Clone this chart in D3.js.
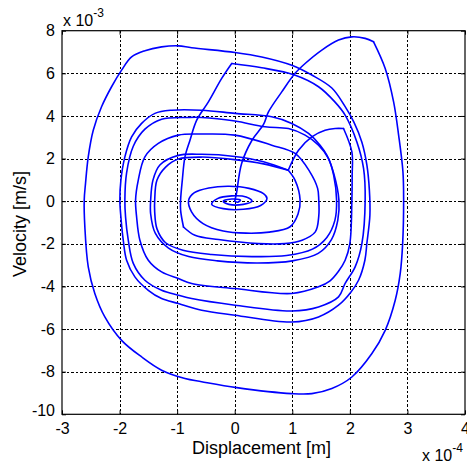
<!DOCTYPE html>
<html>
<head>
<meta charset="utf-8">
<script src="https://cdn.jsdelivr.net/npm/d3@7"></script>
<style>
  html, body { margin: 0; padding: 0; background: #fff; }
  svg { display: block; font-family: "Liberation Sans", Arial, sans-serif; }
</style>
</head>
<body>
<svg id="chart" width="467" height="463"></svg>
<script>
// Axis ticks (displacement in 1e-4 m, velocity in 1e-3 m/s)
const xTicks = [-3, -2, -1, 0, 1, 2, 3, 4];
const yTicks = [-10, -8, -6, -4, -2, 0, 2, 4, 6, 8];
const xTickLabels = ["-3", "-2", "-1", "0", "1", "2", "3", "4"];
const yTickLabels = ["-10", "-8", "-6", "-4", "-2", "0", "2", "4", "6", "8"];

// Phase trajectory, [displacement, velocity], split where the velocity jumps
const kickUp = [
  [0.0,0.0],[0.03,0.36],[0.12,1.77],[0.30,2.86],[0.5,3.6],[0.586,4.19],[0.817,5.13],[1.049,6.0],
  [1.223,6.46],[1.513,7.09],[1.803,7.56],[2.035,7.71],[2.266,7.64],[2.412,7.48]
];
const outerLoops = [
  [2.412,7.48],[2.614,6.23],[2.76,4.66],[2.847,3.10],[2.922,1.38],[2.934,0.05],[2.917,-1.99],
  [2.875,-3.39],[2.788,-4.65],[2.614,-6.06],[2.383,-7.15],[2.035,-8.25],[1.687,-8.79],[1.339,-9.03],
  [0.991,-9.03],[0.035,-8.75],[-0.574,-8.47],[-0.864,-8.32],[-1.27,-7.93],[-1.617,-7.31],[-1.965,-6.53],
  [-2.256,-5.43],[-2.43,-4.33],[-2.544,-3.08],[-2.603,-1.21],[-2.614,0.05],[-2.591,0.85],[-2.544,2.08],
  [-2.457,3.33],[-2.313,4.43],[-2.139,5.37],[-1.965,6.15],[-1.791,6.77],[-1.56,7.06],[-1.27,7.24],
  [-0.979,7.29],[-0.748,7.2],[0.005,6.98],[0.47,6.77],[0.991,6.38],[1.339,5.92],[1.687,5.31],
  [1.913,4.46],[2.07,3.71],[2.209,2.77],[2.296,1.69],[2.339,0.52],[2.348,-0.66],[2.296,-1.97],
  [2.261,-2.77],[2.151,-3.71],[2.017,-4.27],[1.803,-4.88],[1.456,-5.43],[0.991,-5.67],[0.005,-5.35],
  [-0.574,-5.12],[-0.979,-4.8],[-1.27,-4.57],[-1.501,-4.18],[-1.734,-3.55],[-1.878,-2.77],[-1.936,-1.83],
  [-1.977,-0.74],[-1.995,0.05],[-1.977,0.99],[-1.908,2.08],[-1.791,3.02],[-1.617,3.65],[-1.386,4.12],
  [-1.096,4.27],[-0.574,4.27],[0.005,4.12],[0.643,3.96],[0.991,3.65],[1.282,3.18],[1.483,2.63],
  [1.6,2.16],[1.72,1.3],[1.81,0.05],[1.79,-0.9],[1.68,-1.8],[1.45,-2.45],[1.0,-2.8],[0.4,-2.9],
  [-0.3,-2.8],[-0.8,-2.6],[-1.15,-2.2],[-1.38,-1.5],[-1.46,-0.6],[-1.46,0.05],[-1.42,0.99],[-1.3,1.7],
  [-0.979,2.15],[-0.574,2.2],[0,2.1],[0.5,1.85],[0.93,1.45]
];
const secondKick = [
  [0.93,1.45],[1.108,2.39],[1.339,3.02],[1.57,3.33],[1.744,3.41],[1.89,3.41]
];
const secondLoops = [
  [1.89,3.41],[2.035,2.31],[2.04,1.22],[2.035,0.05],[2.0,-1.99],[1.918,-2.77],[1.80,-3.3],
  [1.65,-3.75],[1.456,-4.02],[0.991,-4.33],[0.005,-4.1],[-0.748,-3.86],[-0.979,-3.63],[-1.27,-3.32],
  [-1.501,-2.77],[-1.647,-1.83],[-1.704,-0.74],[-1.722,0.05],[-1.675,0.99],[-1.56,2.08],[-1.327,2.71],
  [-0.979,3.1],[-0.574,3.15],[0,3.1],[0.643,2.63],[1.049,2.24],[1.3,1.4],[1.44,0.6],[1.46,0.05],
  [1.46,-0.7],[1.4,-1.44],[1.17,-1.83],[0.87,-1.99],[0.41,-1.99],[-0.28,-1.8],[-0.69,-1.6],[-0.89,-1.21]
];
const thirdKick = [
  [-0.89,-1.21],[-0.94,-0.42],[-0.94,0.05],[-0.91,0.99],[-0.864,2.08],[-0.777,2.86],[-0.66,3.8],
  [-0.457,4.66],[-0.226,5.76],[-0.052,6.46]
];
const thirdLoops = [
  [-0.052,6.46],[0.47,6.26],[1.04,5.92],[1.456,5.37],[1.739,4.66],[1.918,4.04],[2.122,2.78],
  [2.238,1.54],[2.266,0.05],[2.209,-1.99],[2.092,-3.08],[1.918,-3.86],[1.803,-4.49],[1.456,-4.96],
  [0.991,-5.15],[0.005,-4.88],[-0.748,-4.57],[-0.979,-4.41],[-1.27,-4.18],[-1.56,-3.71],[-1.762,-2.92],
  [-1.849,-1.83],[-1.896,-0.74],[-1.908,0.05],[-1.878,1.33],[-1.762,2.58],[-1.56,3.38],[-1.27,3.85],
  [-0.805,3.93],[-0.574,3.93],[0.005,3.76],[0.527,3.49],[0.933,3.41],[1.223,3.1],[1.456,2.63],[1.63,2.0],
  [1.72,1.2],[1.77,0.05],[1.74,-0.9],[1.6,-1.7],[1.35,-2.25],[0.9,-2.55],[0.3,-2.6],[-0.4,-2.5],
  [-0.9,-2.3],[-1.2,-1.95],[-1.35,-1.3],[-1.39,-0.5],[-1.39,0.05],[-1.35,0.99],[-1.2,1.6],[-0.979,1.98],
  [-0.574,2.07],[0,1.95],[0.5,1.75],[0.93,1.45]
];
const finalDecay = [
  [0.93,1.45],[1.049,0.98],[1.136,0.05],[1.10,-0.6],[0.962,-1.2],[0.6,-1.45],[0.2,-1.5],[-0.2,-1.4],
  [-0.55,-1.05],[-0.75,-0.5],[-0.8,0.05],[-0.7,0.4],[-0.45,0.62],[-0.1,0.7],[0.25,0.6],[0.5,0.35],
  [0.56,0.13],[0.45,-0.2],[0.15,-0.38],[-0.2,-0.35],[-0.4,-0.15],[-0.3,0.12],[-0.05,0.25],[0.2,0.2],
  [0.3,0.0],[0.15,-0.15],[-0.1,-0.15],[-0.2,0],[-0.05,0.1],[0.1,0.05],[0.05,-0.05],[0,0]
];
const segments = [kickUp, outerLoops, secondKick, secondLoops, thirdKick, thirdLoops, finalDecay];

const svg = d3.select("#chart");
const W = 467, H = 463;
const x = d3.scaleLinear().domain([-3, 4]).range([62, 465]);
const y = d3.scaleLinear().domain([-10, 8]).range([414.3, 30.7]);

svg.append("rect").attr("width", W).attr("height", H).attr("fill", "#fff");

// dotted grid
const grid = svg.append("g").attr("stroke", "#000").attr("stroke-width", 1)
  .attr("stroke-dasharray", "2.5,2").attr("shape-rendering", "crispEdges");
grid.selectAll("line.vx").data(xTicks.slice(1, -1)).join("line")
  .attr("x1", d => Math.round(x(d)) + 0.5).attr("x2", d => Math.round(x(d)) + 0.5)
  .attr("y1", y(8)).attr("y2", y(-10));
grid.selectAll("line.hy").data(yTicks.slice(1, -1)).join("line")
  .attr("y1", d => Math.round(y(d)) + 0.5).attr("y2", d => Math.round(y(d)) + 0.5)
  .attr("x1", x(-3)).attr("x2", x(4));

// trajectory: each piece smoothed on its own so the kicks stay sharp corners
const line = d3.line().x(d => x(d[0])).y(d => y(d[1])).curve(d3.curveCatmullRom.alpha(0.5));
svg.append("g").selectAll("path").data(segments).join("path")
  .attr("d", line).attr("fill", "none").attr("stroke", "#0000ff")
  .attr("stroke-width", 1.6).attr("stroke-linejoin", "miter").attr("stroke-linecap", "round");

// axes with inward ticks on all four sides
const fs = 16;
const axB = d3.axisBottom(x).tickValues(xTicks).tickFormat((d, i) => xTickLabels[i]).tickSizeInner(-4).tickSizeOuter(0).tickPadding(8);
const axT = d3.axisTop(x).tickValues(xTicks).tickFormat("").tickSizeInner(-4).tickSizeOuter(0);
const axL = d3.axisLeft(y).tickValues(yTicks).tickFormat((d, i) => yTickLabels[i]).tickSizeInner(-4).tickSizeOuter(0).tickPadding(7);
const axR = d3.axisRight(y).tickValues(yTicks).tickFormat("").tickSizeInner(-4).tickSizeOuter(0);

function styleAxis(g) {
  g.select(".domain").remove();
  g.selectAll("line").attr("stroke", "#000");
  g.selectAll("text").attr("fill", "#000").attr("font-size", fs).attr("font-family", "Liberation Sans, Arial, sans-serif");
}
svg.append("g").attr("transform", `translate(0,${y(-10)})`).call(axB).call(styleAxis);
svg.append("g").attr("transform", `translate(0,${y(8)})`).call(axT).call(styleAxis);
const gl = svg.append("g").attr("transform", `translate(${x(-3)},0)`).call(axL).call(styleAxis);
svg.append("g").attr("transform", `translate(${x(4)},0)`).call(axR).call(styleAxis);
// lowest y label sits a little higher so it clears the x labels
gl.selectAll(".tick").filter(d => d === -10).select("text").attr("dy", "0.05em");

// box
svg.append("rect").attr("x", x(-3)).attr("y", y(8)).attr("width", x(4) - x(-3)).attr("height", y(-10) - y(8))
  .attr("fill", "none").attr("stroke", "#000").attr("stroke-width", 1.2);

// exponent labels
const ex1 = svg.append("text").attr("x", 63).attr("y", 26).attr("font-size", 16);
ex1.append("tspan").text("x 10");
ex1.append("tspan").attr("font-size", 12).attr("dy", -9).text("-3");
const ex2 = svg.append("text").attr("x", 422).attr("y", 461).attr("font-size", 16);
ex2.append("tspan").text("x 10");
ex2.append("tspan").attr("font-size", 12).attr("dy", -9).text("-4");

// axis titles
svg.append("text").attr("x", 261.5).attr("y", 454).attr("text-anchor", "middle")
  .attr("font-size", 18).text("Displacement [m]");
svg.append("text").attr("transform", "translate(26,224) rotate(-90)").attr("text-anchor", "middle")
  .attr("font-size", 18).text("Velocity [m/s]");
</script>
</body>
</html>
